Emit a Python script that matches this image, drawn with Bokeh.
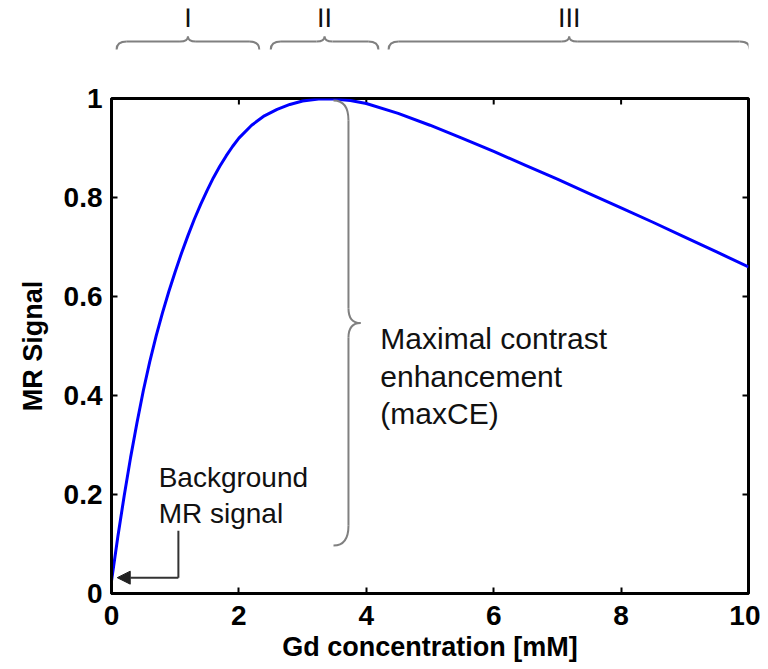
import math
from bokeh.plotting import figure
from bokeh.models import Range1d, FixedTicker, Arrow, NormalHead
from bokeh.layouts import column
from bokeh.embed import file_html
from bokeh.resources import INLINE
from bokeh.core.properties import value

# ---------------- data ----------------
gd_mM = [0, 0.1, 0.2, 0.3, 0.4, 0.5, 0.6, 0.7, 0.8, 0.9, 1.0, 1.1, 1.2, 1.3,
         1.4, 1.5, 1.6, 1.7, 1.8, 1.9, 2.0, 2.2, 2.4, 2.6, 2.8, 3.0, 3.25,
         3.5, 3.75, 4.0, 4.5, 5.0, 5.5, 6.0, 6.5, 7.0, 7.5, 8.0, 8.5, 9.0,
         9.5, 10.0]
mr_signal = [0.025, 0.115, 0.198, 0.275, 0.345, 0.41, 0.468, 0.52, 0.567,
             0.61, 0.65, 0.688, 0.723, 0.756, 0.786, 0.814, 0.84, 0.863,
             0.884, 0.903, 0.92, 0.946, 0.965, 0.978, 0.988, 0.995, 0.999,
             0.999, 0.996, 0.99, 0.97, 0.946, 0.92, 0.893, 0.865, 0.837,
             0.808, 0.779, 0.75, 0.72, 0.69, 0.66]

x_ticks = [0, 2, 4, 6, 8, 10]
y_ticks = [0, 0.2, 0.4, 0.6, 0.8, 1]
y_tick_labels = ["0", "0.2", "0.4", "0.6", "0.8", "1"]

region_labels = ["I", "II", "III"]
region_start = [0.08, 2.5, 4.35]
region_end = [2.32, 4.19, 10.02]

maxce_bottom = 0.097
maxce_top = 0.996
maxce_x = 3.72
background_level = 0.032

FONT = "Liberation Sans"
BRACE_COLOR = "#808080"
TEXT_COLOR = "#111111"

FW, FH = 637, 495
BL, BR = 111, 12

# ---------------- main figure ----------------
p = figure(frame_width=FW, frame_height=FH,
           x_range=Range1d(0, 10), y_range=Range1d(0, 1),
           output_backend="svg", toolbar_location=None,
           min_border_left=BL, min_border_right=BR,
           min_border_top=20, min_border_bottom=0,
           outline_line_color="black", outline_line_width=3)
p.grid.visible = False


def style_axis(ax):
    ax.major_tick_in = 6
    ax.major_tick_out = 0
    ax.minor_tick_line_color = None
    ax.axis_line_width = 3
    ax.axis_line_color = "black"
    ax.major_tick_line_width = 2
    ax.major_tick_line_color = "black"
    ax.major_label_text_font = FONT
    ax.major_label_text_font_size = "28px"
    ax.major_label_text_font_style = "bold"
    ax.major_label_text_color = "black"
    ax.axis_label_text_font = FONT
    ax.axis_label_text_font_size = "27px"
    ax.axis_label_text_font_style = "bold"
    ax.axis_label_text_color = "black"


xa = p.xaxis[0]
xa.ticker = FixedTicker(ticks=x_ticks)
style_axis(xa)
xa.major_label_standoff = 12
xa.axis_label = "Gd concentration [mM]"
xa.axis_label_standoff = 4

ya = p.yaxis[0]
ya.ticker = FixedTicker(ticks=y_ticks)
style_axis(ya)
ya.major_label_overrides = {t: s for t, s in zip(y_ticks, y_tick_labels)}
ya.major_label_standoff = 9
ya.axis_label = "MR Signal"
ya.axis_label_standoff = 13

# mirrored inner ticks on top and right edges (half-clipped dashes)
p.scatter(x=x_ticks, y=[1] * len(x_ticks), marker="dash", size=12,
          angle=math.pi / 2, line_color="black", line_width=2)
p.scatter(x=[10] * len(y_ticks), y=y_ticks, marker="dash", size=12,
          line_color="black", line_width=2)

# curve
p.line(gd_mM, mr_signal, line_color="#0000ff", line_width=3)

# big vertical brace (maxCE)
xe = maxce_x - 0.235
xt = maxce_x + 0.19
ym = (maxce_top + maxce_bottom) / 2
dy1, dy2 = 0.04, 0.03
p.quadratic(x0=[xe, maxce_x, xt, maxce_x],
            y0=[maxce_top, ym + dy2, ym, maxce_bottom + dy1],
            x1=[maxce_x, xt, maxce_x, xe],
            y1=[maxce_top - dy1, ym, ym - dy2, maxce_bottom],
            cx=[maxce_x, maxce_x, maxce_x, maxce_x],
            cy=[maxce_top, ym, ym, maxce_bottom],
            line_color=BRACE_COLOR, line_width=2)
p.segment(x0=[maxce_x, maxce_x], y0=[maxce_top - dy1, ym - dy2],
          x1=[maxce_x, maxce_x], y1=[ym + dy2, maxce_bottom + dy1],
          line_color=BRACE_COLOR, line_width=2)

# annotation texts
p.text(x=[4.22, 4.22, 4.22], y=[0.515, 0.438, 0.363],
       text=["Maximal contrast", "enhancement", "(maxCE)"],
       text_font=value(FONT), text_font_size="30px", text_color=TEXT_COLOR,
       text_align="left", text_baseline="alphabetic")
p.text(x=[0.74, 0.74], y=[0.235, 0.161],
       text=["Background", "MR signal"],
       text_font=value(FONT), text_font_size="28px", text_color=TEXT_COLOR,
       text_align="left", text_baseline="alphabetic")

# background arrow
p.segment(x0=[1.05], y0=[0.127], x1=[1.05], y1=[background_level],
          line_color="#333333", line_width=2)
p.add_layout(Arrow(end=NormalHead(size=13, fill_color="#222222", line_color="#222222"),
                   x_start=1.05, y_start=background_level,
                   x_end=0.09, y_end=background_level,
                   line_color="#333333", line_width=2))

# ---------------- top figure with region braces ----------------
top = figure(frame_width=FW, frame_height=70,
             x_range=p.x_range, y_range=Range1d(78, 8),
             x_axis_type=None, y_axis_type=None,
             output_backend="svg", toolbar_location=None,
             min_border_left=BL, min_border_right=BR,
             min_border_top=8, min_border_bottom=0,
             outline_line_color=None)
top.grid.visible = False

y_line, y_end, y_apex = 41, 49, 36
dx_end, dx_apex = 0.16, 0.125
qx0, qy0, qx1, qy1, qcx, qcy = [], [], [], [], [], []
sx0, sx1 = [], []
mids = []
for a, b in zip(region_start, region_end):
    m = (a + b) / 2
    mids.append(m)
    qx0 += [a]; qy0 += [y_end]; qx1 += [a + dx_end]; qy1 += [y_line]; qcx += [a]; qcy += [y_line]
    qx0 += [m - dx_apex]; qy0 += [y_line]; qx1 += [m]; qy1 += [y_apex]; qcx += [m]; qcy += [y_line]
    qx0 += [m]; qy0 += [y_apex]; qx1 += [m + dx_apex]; qy1 += [y_line]; qcx += [m]; qcy += [y_line]
    qx0 += [b - dx_end]; qy0 += [y_line]; qx1 += [b]; qy1 += [y_end]; qcx += [b]; qcy += [y_line]
    sx0 += [a + dx_end, m + dx_apex]
    sx1 += [m - dx_apex, b - dx_end]

top.quadratic(x0=qx0, y0=qy0, x1=qx1, y1=qy1, cx=qcx, cy=qcy,
              line_color=BRACE_COLOR, line_width=2)
top.segment(x0=sx0, y0=[y_line] * len(sx0), x1=sx1, y1=[y_line] * len(sx1),
            line_color=BRACE_COLOR, line_width=2)
top.text(x=mids, y=[17] * len(mids), text=region_labels,
         text_font=value(FONT), text_font_size="27px", text_color=TEXT_COLOR,
         text_align="center", text_baseline="alphabetic")

layout = column(top, p, spacing=0)
open("out.html", "w").write(file_html(layout, INLINE))
